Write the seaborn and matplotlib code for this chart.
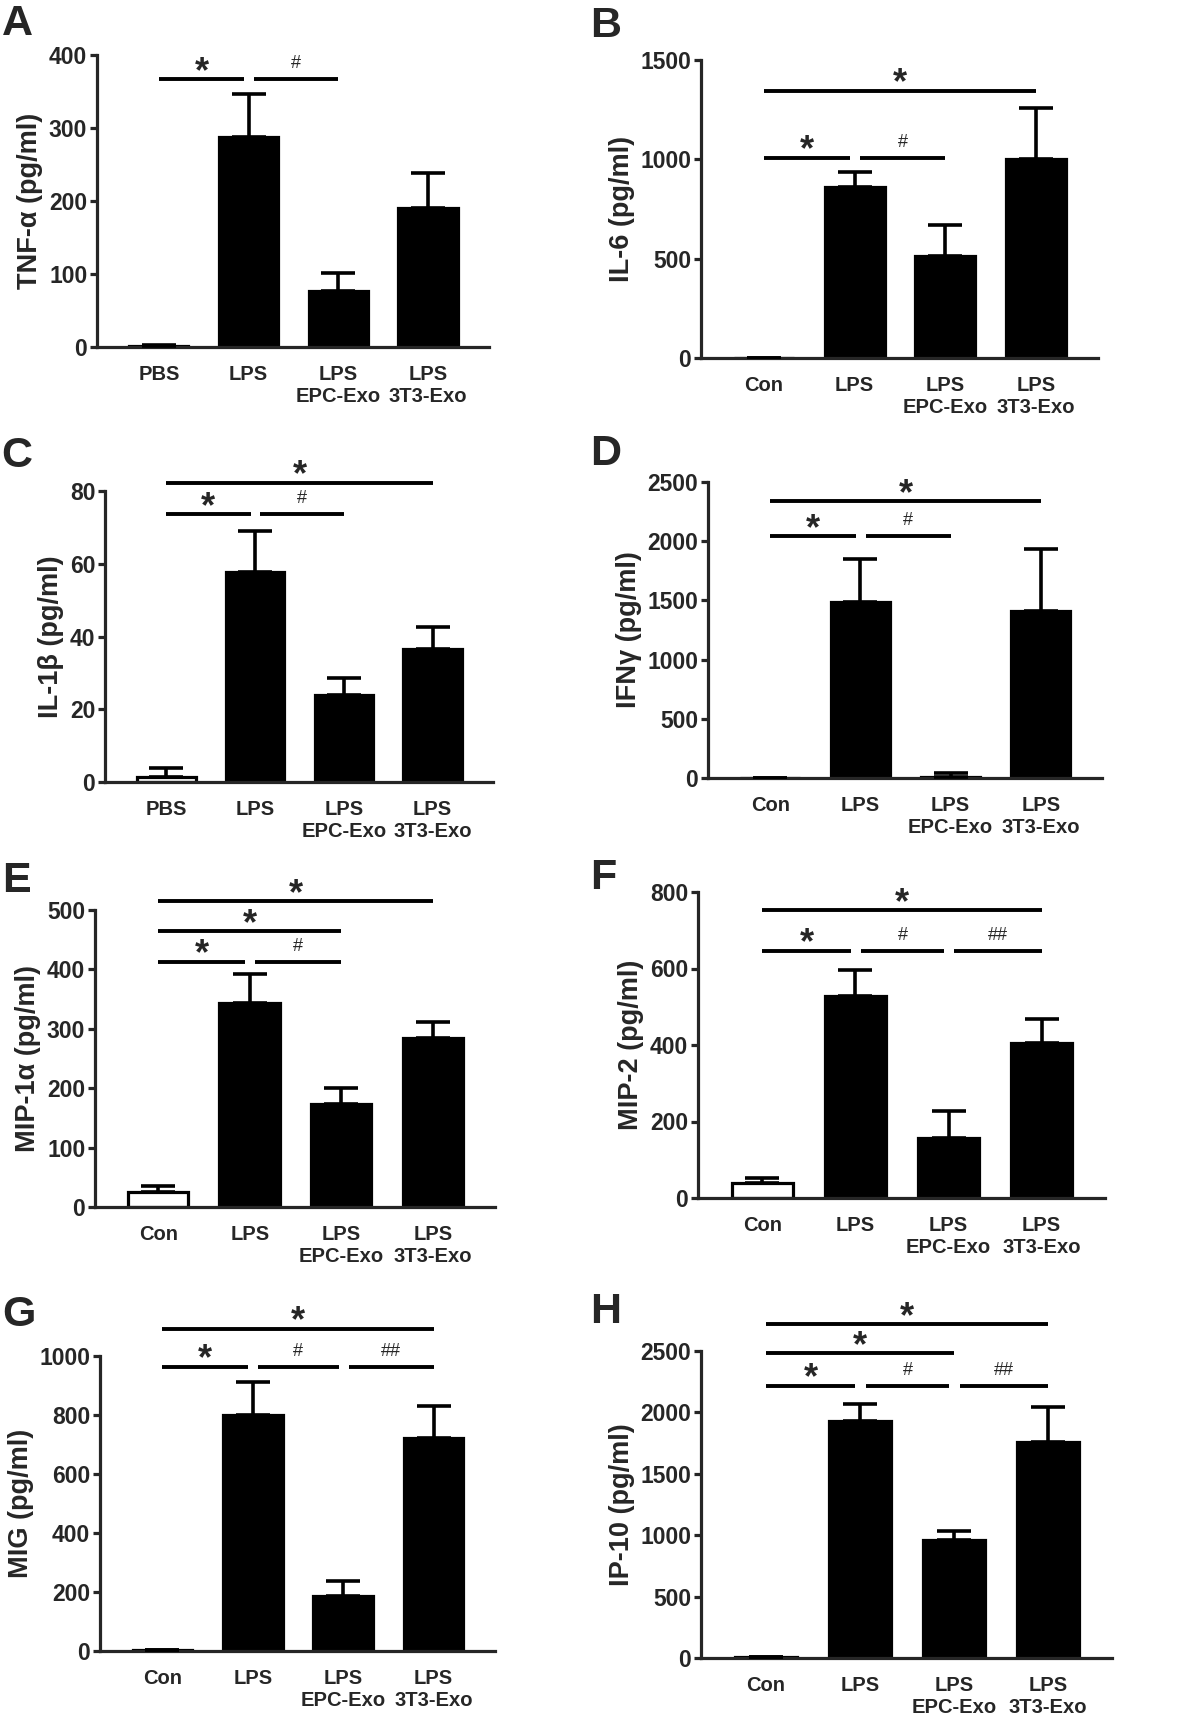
import matplotlib
matplotlib.use("Agg")
import numpy as np
import pandas as pd
import seaborn as sns
from matplotlib import pyplot as plt

# group labels
cats_pbs = ["PBS", "LPS", "LPS\nEPC-Exo", "LPS\n3T3-Exo"]
cats_con = ["Con", "LPS", "LPS\nEPC-Exo", "LPS\n3T3-Exo"]

# means and SEM (pg/ml)
tnf_mean = [2, 288, 77, 190]
tnf_sem = [1, 58, 25, 48]
il6_mean = [0, 863, 514, 1002]
il6_sem = [0, 75, 153, 255]
il1b_mean = [1.5, 57.7, 23.9, 36.6]
il1b_sem = [2.3, 11.3, 4.6, 6.1]
ifng_mean = [0, 1483, 8, 1410]
ifng_sem = [0, 365, 35, 528]
mip1a_mean = [25, 343, 174, 284]
mip1a_sem = [10, 49, 27, 27]
mip2_mean = [38, 529, 157, 406]
mip2_sem = [14, 68, 70, 62]
mig_mean = [3, 800, 186, 721]
mig_sem = [0, 113, 52, 111]
ip10_mean = [10, 1931, 957, 1757]
ip10_sem = [0, 136, 81, 290]

# significance brackets: (from group, to group, height, mark)
sig_a = [(0, 1, 367, "*"), (1, 2, 367, "#")]
sig_b = [(0, 3, 1345, "*"), (0, 1, 1008, "*"), (1, 2, 1008, "#")]
sig_c = [(0, 3, 82.3, "*"), (0, 1, 73.7, "*"), (1, 2, 73.7, "#")]
sig_d = [(0, 3, 2339, "*"), (0, 1, 2041, "*"), (1, 2, 2041, "#")]
sig_e = [(0, 3, 515, "*"), (0, 2, 464, "*"), (0, 1, 413, "*"), (1, 2, 413, "#")]
sig_f = [(0, 3, 752, "*"), (0, 1, 647, "*"), (1, 2, 647, "#"), (2, 3, 647, "##")]
sig_g = [(0, 3, 1092, "*"), (0, 1, 964, "*"), (1, 2, 964, "#"), (2, 3, 964, "##")]
sig_h = [(0, 3, 2720, "*"), (0, 2, 2482, "*"), (0, 1, 2216, "*"),
         (1, 2, 2216, "#"), (2, 3, 2216, "##")]

sns.set_theme(style="ticks")
plt.rcParams["font.family"] = ["Liberation Sans", "DejaVu Sans"]
plt.rcParams["font.weight"] = "bold"
plt.rcParams["axes.linewidth"] = 2.3

W, H = 1181, 1722
fig = plt.figure(figsize=(W / 100, H / 100), dpi=100)

# letter, labels, mean, sem, ylabel, ymax, step, sig, axes box px (x0, x1, ytop, ybottom), letter px
panels = [
    ("A", cats_pbs, tnf_mean, tnf_sem, "TNF-α (pg/ml)", 400, 100, sig_a, (97, 489, 55, 347), (2, 4)),
    ("B", cats_con, il6_mean, il6_sem, "IL-6 (pg/ml)", 1500, 500, sig_b, (701, 1098, 60, 358), (590, 6)),
    ("C", cats_pbs, il1b_mean, il1b_sem, "IL-1β (pg/ml)", 80, 20, sig_c, (105, 493, 491, 782), (1, 436)),
    ("D", cats_con, ifng_mean, ifng_sem, "IFNγ (pg/ml)", 2500, 500, sig_d, (708, 1102, 482, 778), (590, 434)),
    ("E", cats_con, mip1a_mean, mip1a_sem, "MIP-1α (pg/ml)", 500, 100, sig_e, (95, 495, 910, 1207), (2, 861)),
    ("F", cats_con, mip2_mean, mip2_sem, "MIP-2 (pg/ml)", 800, 200, sig_f, (698, 1105, 892, 1198), (590, 858)),
    ("G", cats_con, mig_mean, mig_sem, "MIG (pg/ml)", 1000, 200, sig_g, (100, 495, 1356, 1651), (2, 1295)),
    ("H", cats_con, ip10_mean, ip10_sem, "IP-10 (pg/ml)", 2500, 500, sig_h, (701, 1112, 1351, 1658), (590, 1292)),
]

for letter, cats, mean, sem, ylabel, ymax, step, sig, box, lpos in panels:
    x0, x1, yt, yb = box
    ax = fig.add_axes([x0 / W, 1 - yb / H, (x1 - x0) / W, (yb - yt) / H])
    df = pd.DataFrame({"group": cats, "value": mean})
    pal = {c: ("white" if i == 0 else "black") for i, c in enumerate(cats)}
    sns.barplot(data=df, x="group", y="value", hue="group", palette=pal, legend=False,
                width=0.66, edgecolor="black", linewidth=2.3, errorbar=None,
                saturation=1, ax=ax)
    ax.errorbar(np.arange(len(cats)), mean, yerr=[np.zeros(len(cats)), sem], fmt="none",
                ecolor="black", elinewidth=2.6, capsize=12, capthick=2.6, zorder=4)
    ax.set_xlim(-0.69, 3.68)
    ax.set_ylim(0, ymax)
    ax.set_yticks(np.arange(0, ymax + 1, step))
    ax.set_xlabel("")
    ax.set_ylabel(ylabel, fontsize=19.5, fontweight="bold", labelpad=4)
    ax.tick_params(axis="y", length=5, width=2.3, labelsize=16.5, pad=2)
    ax.tick_params(axis="x", length=0, labelsize=14.5, pad=13)
    for t in ax.get_xticklabels() + ax.get_yticklabels():
        t.set_fontweight("bold")
    sns.despine(ax=ax)

    starts = {(i, y) for i, j, y, s in sig}
    ends = {(j, y) for i, j, y, s in sig}
    for i, j, y, s in sig:
        a = i + 0.06 if (i, y) in ends else i
        b = j - 0.05 if (j, y) in starts else j
        ax.plot([a, b], [y, y], color="black", lw=2.8, clip_on=False, solid_capstyle="butt")
        if s == "*":
            ax.annotate(s, ((a + b) / 2, y), xytext=(0, -2), textcoords="offset points",
                        ha="center", va="baseline", fontsize=26, fontweight="bold",
                        annotation_clip=False)
        else:
            ax.annotate(s, ((a + b) / 2, y), xytext=(0, 5), textcoords="offset points",
                        ha="center", va="bottom", fontsize=13, fontweight="normal",
                        annotation_clip=False)

    fig.text(lpos[0] / W, 1 - lpos[1] / H, letter, fontsize=31, fontweight="bold",
             ha="left", va="top")

fig.savefig("out.png", dpi=100)
